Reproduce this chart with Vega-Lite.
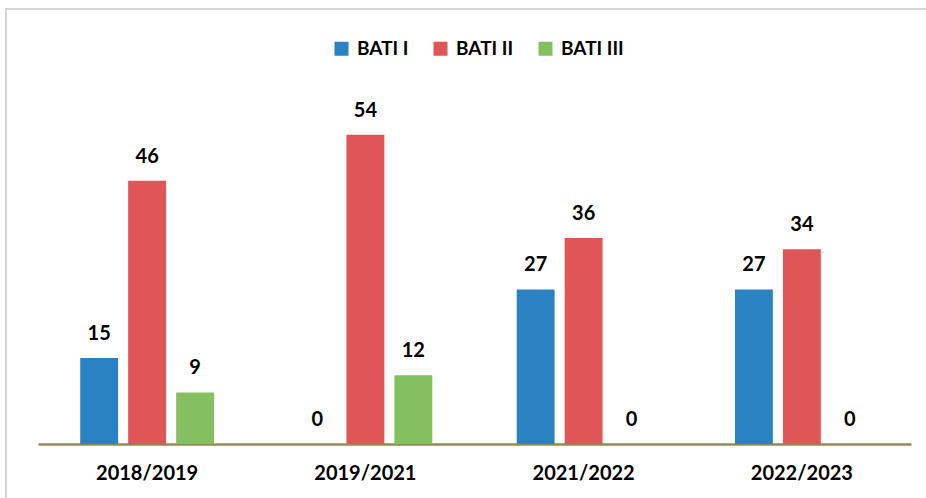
{
  "$schema": "https://vega.github.io/schema/vega-lite/v6.json",
  "autosize": {"type": "none"},
  "width": 925,
  "height": 495,
  "padding": {"left": 6, "top": 9, "right": 0, "bottom": 0},
  "background": "white",
  "config": {
    "view": {"stroke": "#d4d4d4", "strokeWidth": 2},
    "font": "Lato"
  },
  "data": {
    "values": [
      {"year": "2018/2019", "group": "BATI I", "value": 15},
      {"year": "2018/2019", "group": "BATI II", "value": 46},
      {"year": "2018/2019", "group": "BATI III", "value": 9},
      {"year": "2019/2021", "group": "BATI I", "value": 0},
      {"year": "2019/2021", "group": "BATI II", "value": 54},
      {"year": "2019/2021", "group": "BATI III", "value": 12},
      {"year": "2021/2022", "group": "BATI I", "value": 27},
      {"year": "2021/2022", "group": "BATI II", "value": 36},
      {"year": "2021/2022", "group": "BATI III", "value": 0},
      {"year": "2022/2023", "group": "BATI I", "value": 27},
      {"year": "2022/2023", "group": "BATI II", "value": 34},
      {"year": "2022/2023", "group": "BATI III", "value": 0}
    ]
  },
  "encoding": {
    "x": {
      "field": "year", "type": "nominal", "sort": null,
      "scale": {"range": [32, 905], "paddingInner": 0, "paddingOuter": 0},
      "axis": {
        "title": null, "labelAngle": 0, "ticks": false, "offset": -60,
        "domainColor": "#948a54", "domainWidth": 2.5,
        "labelFont": "Lato", "labelFontSize": 20, "labelFontWeight": "bold",
        "labelColor": "#000000", "labelPadding": 19
      }
    },
    "xOffset": {
      "field": "group", "type": "nominal", "sort": null,
      "scale": {"paddingInner": 0.21, "paddingOuter": 0.88}
    },
    "y": {
      "field": "value", "type": "quantitative",
      "scale": {"domain": [0, 75.98], "range": [435, 0], "nice": false, "zero": true},
      "axis": null
    }
  },
  "layer": [
    {
      "mark": {"type": "bar"},
      "encoding": {
        "color": {
          "field": "group", "type": "nominal", "sort": null,
          "scale": {"domain": ["BATI I", "BATI II", "BATI III"], "range": ["#2a82c2", "#e05656", "#85c060"]},
          "legend": {
            "orient": "none", "direction": "horizontal", "title": null,
            "legendX": 326, "legendY": 30,
            "symbolType": "square", "symbolSize": 196, "symbolStrokeWidth": 0,
            "labelFont": "Lato", "labelFontSize": 19, "labelFontWeight": "bold",
            "labelColor": "#000000", "labelOffset": 6, "columnPadding": 22, "padding": 0
          }
        }
      }
    },
    {
      "mark": {"type": "text", "baseline": "alphabetic", "dy": -18, "font": "Lato", "fontSize": 20, "fontWeight": "bold", "color": "#000000"},
      "encoding": {"text": {"field": "value", "type": "quantitative"}}
    }
  ]
}
